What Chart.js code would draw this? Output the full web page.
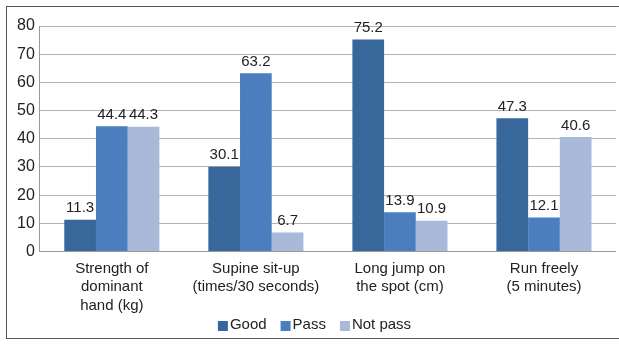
<!DOCTYPE html>
<html>
<head>
<meta charset="utf-8">
<script src="https://cdn.jsdelivr.net/npm/chart.js@4/dist/chart.umd.min.js"></script>
<style>
  html, body { margin: 0; background: #fff; }
  #frame { position: absolute; left: 6px; top: 6px; width: 612px; height: 331px; border: 1px solid #555; border-right: none; }
  #wrap { position: absolute; left: 0; top: 0; width: 609px; height: 331px; }
</style>
</head>
<body>
<div id="frame"><div id="wrap"><canvas id="barChart"></canvas></div></div>
<script>
const categories = [
  ['Strength of', 'dominant', 'hand (kg)'],
  ['Supine sit-up', '(times/30 seconds)'],
  ['Long jump on', 'the spot (cm)'],
  ['Run freely', '(5 minutes)']
];
const good = [11.3, 30.1, 75.2, 47.3];
const pass = [44.4, 63.2, 13.9, 12.1];
const notPass = [44.3, 6.7, 10.9, 40.6];

const FONT = '"Liberation Sans", Arial, sans-serif';

// 막대 위 숫자 표시
const valueLabels = {
  id: 'valueLabels',
  afterDatasetsDraw(chart) {
    const ctx = chart.ctx;
    ctx.save();
    ctx.font = '15px ' + FONT;
    ctx.fillStyle = '#222';
    ctx.textAlign = 'center';
    ctx.textBaseline = 'bottom';
    chart.data.datasets.forEach((ds, i) => {
      chart.getDatasetMeta(i).data.forEach((bar, j) => {
        ctx.fillText(ds.data[j].toFixed(1), bar.x, bar.y - 4);
      });
    });
    ctx.restore();
  }
};

// 하단 범례 (네모 + 글자, 간격 좁게)
const bottomLegend = {
  id: 'bottomLegend',
  afterDraw(chart) {
    const ctx = chart.ctx;
    ctx.save();
    ctx.font = '15px ' + FONT;
    ctx.textBaseline = 'middle';
    ctx.textAlign = 'left';
    const items = chart.data.datasets.map(ds => ({ text: ds.label, color: ds.backgroundColor, w: ctx.measureText(ds.label).width }));
    const total = items.reduce((s, it) => s + 12 + it.w, 0) + 14 * (items.length - 1);
    let x = chart.width / 2 + 3 - total / 2;
    const y = chart.height - 13;
    items.forEach(it => {
      ctx.fillStyle = it.color;
      ctx.fillRect(x, y - 4, 10, 10);
      ctx.fillStyle = '#222';
      ctx.fillText(it.text, x + 12, y);
      x += 12 + it.w + 14;
    });
    ctx.restore();
  }
};

new Chart(document.getElementById('barChart').getContext('2d'), {
  type: 'bar',
  data: {
    labels: categories,
    datasets: [
      { label: 'Good', data: good, backgroundColor: '#37679b' },
      { label: 'Pass', data: pass, backgroundColor: '#4a7ebf' },
      { label: 'Not pass', data: notPass, backgroundColor: '#a8b9d9' }
    ]
  },
  options: {
    responsive: true,
    maintainAspectRatio: false,
    animation: false,
    layout: { padding: { top: 19, right: 0, bottom: 23, left: 5 } },
    datasets: { bar: { categoryPercentage: 0.66, barPercentage: 1 } },
    scales: {
      x: {
        grid: { display: false },
        border: { color: '#999' },
        ticks: { padding: 0, color: '#222', font: { size: 15, lineHeight: '18.5px', family: FONT }, maxRotation: 0, autoSkip: false }
      },
      y: {
        min: 0, max: 80,
        ticks: { stepSize: 10, padding: 5, color: '#222', font: { size: 16, family: FONT } },
        grid: { color: '#b3b3b3', drawTicks: false },
        border: { color: '#999' }
      }
    },
    plugins: {
      tooltip: { enabled: false },
      legend: { display: false }
    }
  },
  plugins: [valueLabels, bottomLegend]
});
</script>
</body>
</html>
